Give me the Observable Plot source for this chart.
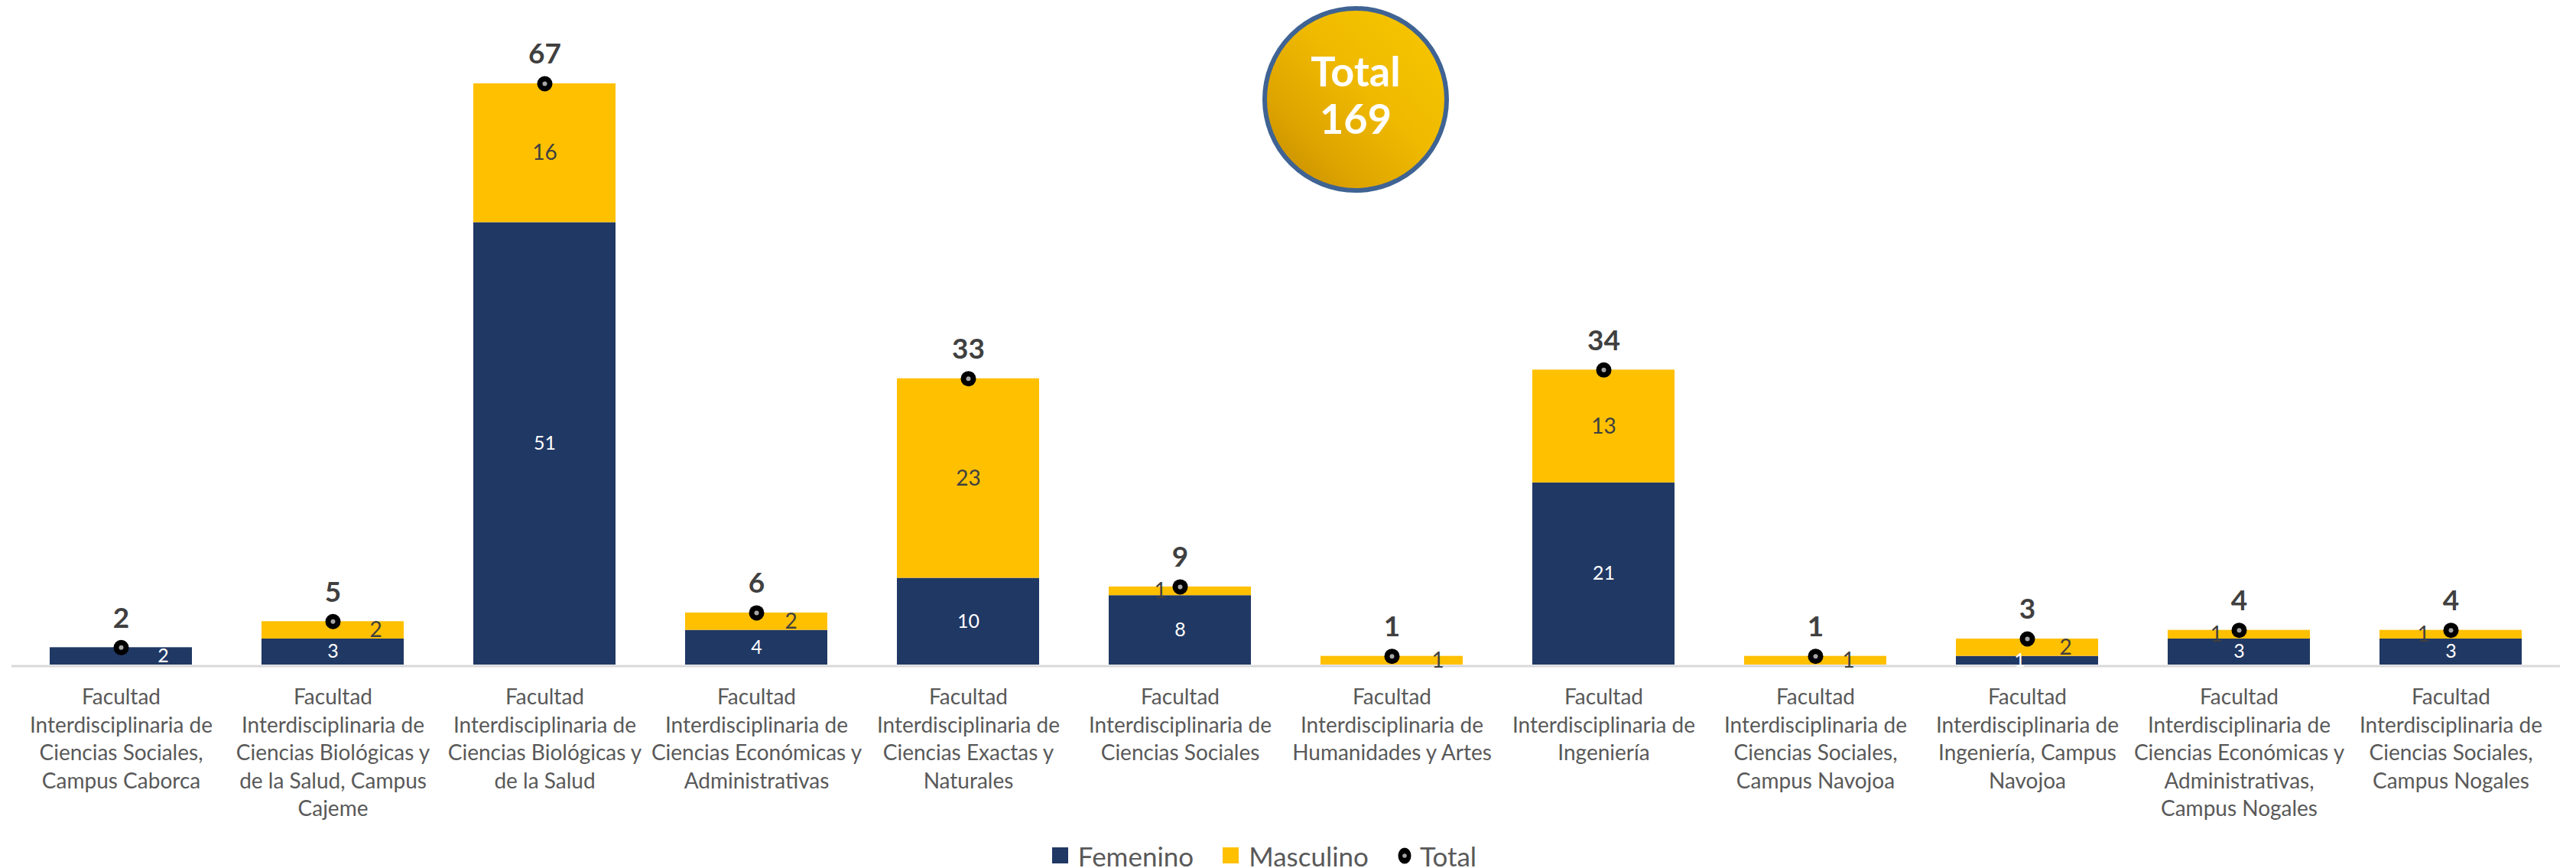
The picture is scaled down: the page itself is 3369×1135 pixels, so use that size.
<!DOCTYPE html>
<html>
<head>
<meta charset="utf-8">
<script src="https://cdn.jsdelivr.net/npm/d3@7"></script>
<script src="https://cdn.jsdelivr.net/npm/@observablehq/plot@0.6"></script>
<style>
  html, body { margin: 0; padding: 0; background: #fff; overflow: hidden; }
  #wrap { position: relative; width: 3369px; height: 1135px; font-family: "Lato", "Open Sans", sans-serif; }
  #badge {
    position: absolute; left: 1651px; top: 8px; width: 232px; height: 232px;
    border-radius: 50%; border: 6px solid #3F6393;
    background: linear-gradient(to bottom left, #F8C800 0%, #EFB900 45%, #DDA300 75%, #BF8800 100%);
    color: #fff; font-weight: 700; font-size: 54px; line-height: 62px;
    display: flex; flex-direction: column; align-items: center; justify-content: center;
    box-sizing: content-box;
  }
  #badge .inner { transform: translateY(-6px); text-align: center; }
  #legend {
    display: flex; justify-content: center; align-items: center;
    font-size: 35px; color: #595959; height: 45px; padding-right: 62px; margin-top: 6px;
  }
  .item { display: flex; align-items: center; gap: 13px; margin-right: 38px; }
  .item:last-child { margin-right: 0; gap: 11px; }
  .sw { width: 21px; height: 21px; display: inline-block; }
</style>
</head>
<body>
<div id="wrap">
  <div id="chart"></div>
  <div id="legend"></div>
  <div id="badge"></div>
</div>
<script>
// ---- data ----
const categories = [
  "Facultad\nInterdisciplinaria de\nCiencias Sociales,\nCampus Caborca",
  "Facultad\nInterdisciplinaria de\nCiencias Biológicas y\nde la Salud, Campus\nCajeme",
  "Facultad\nInterdisciplinaria de\nCiencias Biológicas y\nde la Salud",
  "Facultad\nInterdisciplinaria de\nCiencias Económicas y\nAdministrativas",
  "Facultad\nInterdisciplinaria de\nCiencias Exactas y\nNaturales",
  "Facultad\nInterdisciplinaria de\nCiencias Sociales",
  "Facultad\nInterdisciplinaria de\nHumanidades y Artes",
  "Facultad\nInterdisciplinaria de\nIngeniería",
  "Facultad\nInterdisciplinaria de\nCiencias Sociales,\nCampus Navojoa",
  "Facultad\nInterdisciplinaria de\nIngeniería, Campus\nNavojoa",
  "Facultad\nInterdisciplinaria de\nCiencias Económicas y\nAdministrativas,\nCampus Nogales",
  "Facultad\nInterdisciplinaria de\nCiencias Sociales,\nCampus Nogales"
];
const femenino  = [2, 3, 51, 4, 10, 8, 0, 21, 0, 1, 3, 3];
const masculino = [0, 2, 16, 2, 23, 1, 1, 13, 1, 2, 1, 1];
const seriesNames = ["Femenino", "Masculino"];
const seriesColors = ["#203864", "#FFC000"];

// ---- layout (label nudges in px, not data) ----
const nudgeF = [55, 0, 0, 0, 0, 0, 0, 0, 0, -10, 0, 0];
const nudgeM = [0, 56, 0, 45, 0, -26, 60, 0, 43, 50, -30, -36];

const totals = categories.map((c, i) => ({cat: c, total: femenino[i] + masculino[i]}));
const rows = [];
categories.forEach((c, i) => rows.push({cat: c, series: "Femenino", value: femenino[i], mid: femenino[i] / 2, i}));
categories.forEach((c, i) => rows.push({cat: c, series: "Masculino", value: masculino[i], mid: femenino[i] + masculino[i] / 2, i}));

const labelMarks = rows.filter(d => d.value > 0).map(d => {
  const isF = d.series === "Femenino";
  return Plot.text([d], {
    x: "cat", y: "mid", text: r => String(r.value),
    dx: isF ? nudgeF[d.i] : nudgeM[d.i],
    fill: isF ? "#FFFFFF" : "#404040",
    fontSize: isF ? 25 : 28
  });
});

const chart = Plot.plot({
  width: 3369, height: 1090,
  marginLeft: 15, marginRight: 21, marginTop: 109, marginBottom: 221,
  x: {domain: categories, paddingInner: 0.33, paddingOuter: 0.165, label: null},
  y: {domain: [0, d3.max(totals, d => d.total)], axis: null},
  color: {domain: seriesNames, range: seriesColors},
  style: {fontFamily: "Lato, 'Open Sans', sans-serif", background: "#fff", overflow: "visible"},
  marks: [
    Plot.ruleY([0], {stroke: "#D9D9D9", strokeWidth: 3, dy: 1.5}),
    Plot.barY(rows, {x: "cat", y: "value", fill: "series"}),
    ...labelMarks,
    Plot.dot(totals, {x: "cat", y: "total", r: 10, fill: "#000", stroke: "none"}),
    Plot.dot(totals, {x: "cat", y: "total", r: 3, fill: "#A6A6A6", stroke: "none"}),
    Plot.text(totals, {x: "cat", y: "total", text: d => String(d.total), dy: -38, fontSize: 37, fontWeight: "bold", fill: "#404040"}),
    Plot.axisX({tickSize: 0, tickPadding: 26, fontSize: 28, lineHeight: 1.3, fill: "#595959", label: null})
  ]
});
document.getElementById("chart").appendChild(chart);

// legend
const legend = document.getElementById("legend");
seriesNames.forEach((s, k) => {
  const it = document.createElement("div");
  it.className = "item";
  it.innerHTML = `<span class="sw" style="background:${seriesColors[k]}"></span><span>${s}</span>`;
  legend.appendChild(it);
});
const tot = document.createElement("div");
tot.className = "item";
tot.innerHTML = `<svg width="18" height="24"><ellipse cx="9" cy="12" rx="8.5" ry="10.5" fill="#000"/><circle cx="9" cy="12" r="2.8" fill="#A6A6A6"/></svg><span>Total</span>`;
legend.appendChild(tot);

// badge
const grand = d3.sum(totals, d => d.total);
document.getElementById("badge").innerHTML = `<div class="inner"><div>Total</div><div>${grand}</div></div>`;
</script>
</body>
</html>
